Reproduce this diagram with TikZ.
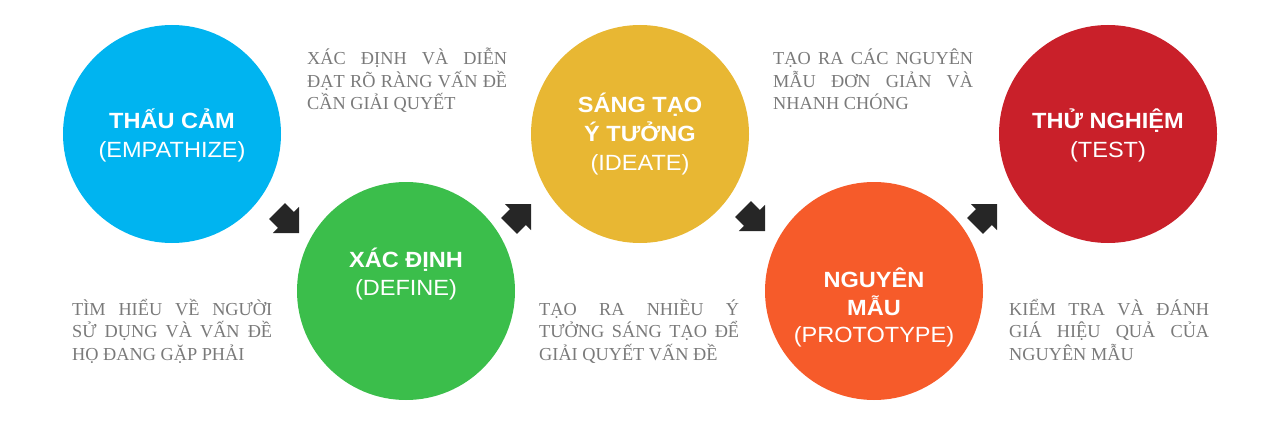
\documentclass[tikz,border=0pt]{standalone}
\usepackage{fontspec}
\setmainfont{Liberation Serif}
\newfontfamily\titlefont[FakeStretch=1.07]{Liberation Sans}
\definecolor{cblue}{HTML}{00B4F0}
\definecolor{cgreen}{HTML}{3BBE4B}
\definecolor{cyellow}{HTML}{E8B733}
\definecolor{corange}{HTML}{F65B2A}
\definecolor{cred}{HTML}{C9202A}
\definecolor{arrowcol}{HTML}{262626}
\definecolor{desccol}{HTML}{7A7A7A}
\tikzset{
  bigcircle/.style={circle, minimum size=218pt, inner sep=0pt, draw=none},
  titlebold/.style={anchor=base, text=white, inner sep=0pt, font=\titlefont\fontsize{22}{22}\selectfont\bfseries},
  titlereg/.style={anchor=base, text=white, inner sep=0pt, font=\titlefont\fontsize{22}{22}\selectfont},
  desc/.style={anchor=base west, inner sep=0pt, text=desccol, font=\fontsize{18.3}{18.3}\selectfont},
  blockarrow/.pic={\fill[arrowcol] (0,0) -- (-18.5,18.5) -- (-18.5,11.3) -- (-31,11.3) -- (-31,-11.3) -- (-18.5,-11.3) -- (-18.5,-18.5) -- cycle;}
}
\newcommand{\jl}[1]{\makebox[200pt][s]{#1}}
\begin{document}
\begin{tikzpicture}[x=1pt,y=1pt]
\useasboundingbox (0,0) rectangle (1280,424);
% circles
\node[bigcircle, fill=cblue] (c1) at (172,290) {};
\node[bigcircle, fill=cgreen] (c2) at (406,133) {};
\node[bigcircle, fill=cyellow] (c3) at (640,290) {};
\node[bigcircle, fill=corange] (c4) at (874,133) {};
\node[bigcircle, fill=cred] (c5) at (1108,290) {};
% titles
\node[titlebold] (t1a) at (172,296) {THẤU CẢM};
\node[titlereg] (t1b) at (172,267) {(EMPATHIZE)};
\node[titlebold] (t2a) at (406,157) {XÁC ĐỊNH};
\node[titlereg] (t2b) at (406,129) {(DEFINE)};
\node[titlebold] (t3a) at (640,312) {SÁNG TẠO};
\node[titlebold] (t3b) at (640,283) {Ý TƯỞNG};
\node[titlereg] (t3c) at (640,254) {(IDEATE)};
\node[titlebold] (t4a) at (874,137) {NGUYÊN};
\node[titlebold] (t4b) at (874,109) {MẪU};
\node[titlereg] (t4c) at (874,82) {(PROTOTYPE)};
\node[titlebold] (t5a) at (1108,296) {THỬ NGHIỆM};
\node[titlereg] (t5b) at (1108,267) {(TEST)};
% arrows
\pic[rotate=-45] (a1) at (299,191) {blockarrow};
\pic[rotate=45] (a2) at (531,220) {blockarrow};
\pic[rotate=-45] (a3) at (765,193) {blockarrow};
\pic[rotate=45] (a4) at (997,220) {blockarrow};
% descriptions
\node[desc] (d1a) at (72,109) {\jl{TÌM HIỂU VỀ NGƯỜI}};
\node[desc] (d1b) at (72,86.5) {\jl{SỬ DỤNG VÀ VẤN ĐỀ}};
\node[desc] (d1c) at (72,64) {HỌ ĐANG GẶP PHẢI};
\node[desc] (d2a) at (307,359) {\jl{XÁC ĐỊNH VÀ DIỄN}};
\node[desc] (d2b) at (307,336.5) {\jl{ĐẠT RÕ RÀNG VẤN ĐỀ}};
\node[desc] (d2c) at (307,314) {CẦN GIẢI QUYẾT};
\node[desc] (d3a) at (539,109) {\jl{TẠO RA NHIỀU Ý}};
\node[desc] (d3b) at (539,86.5) {\jl{TƯỞNG SÁNG TẠO ĐỂ}};
\node[desc] (d3c) at (539,64) {GIẢI QUYẾT VẤN ĐỀ};
\node[desc] (d4a) at (773,359) {\jl{TẠO RA CÁC NGUYÊN}};
\node[desc] (d4b) at (773,336.5) {\jl{MẪU ĐƠN GIẢN VÀ}};
\node[desc] (d4c) at (773,314) {NHANH CHÓNG};
\node[desc] (d5a) at (1009,109) {\jl{KIỂM TRA VÀ ĐÁNH}};
\node[desc] (d5b) at (1009,86.5) {\jl{GIÁ HIỆU QUẢ CỦA}};
\node[desc] (d5c) at (1009,64) {NGUYÊN MẪU};
\end{tikzpicture}
\end{document}
